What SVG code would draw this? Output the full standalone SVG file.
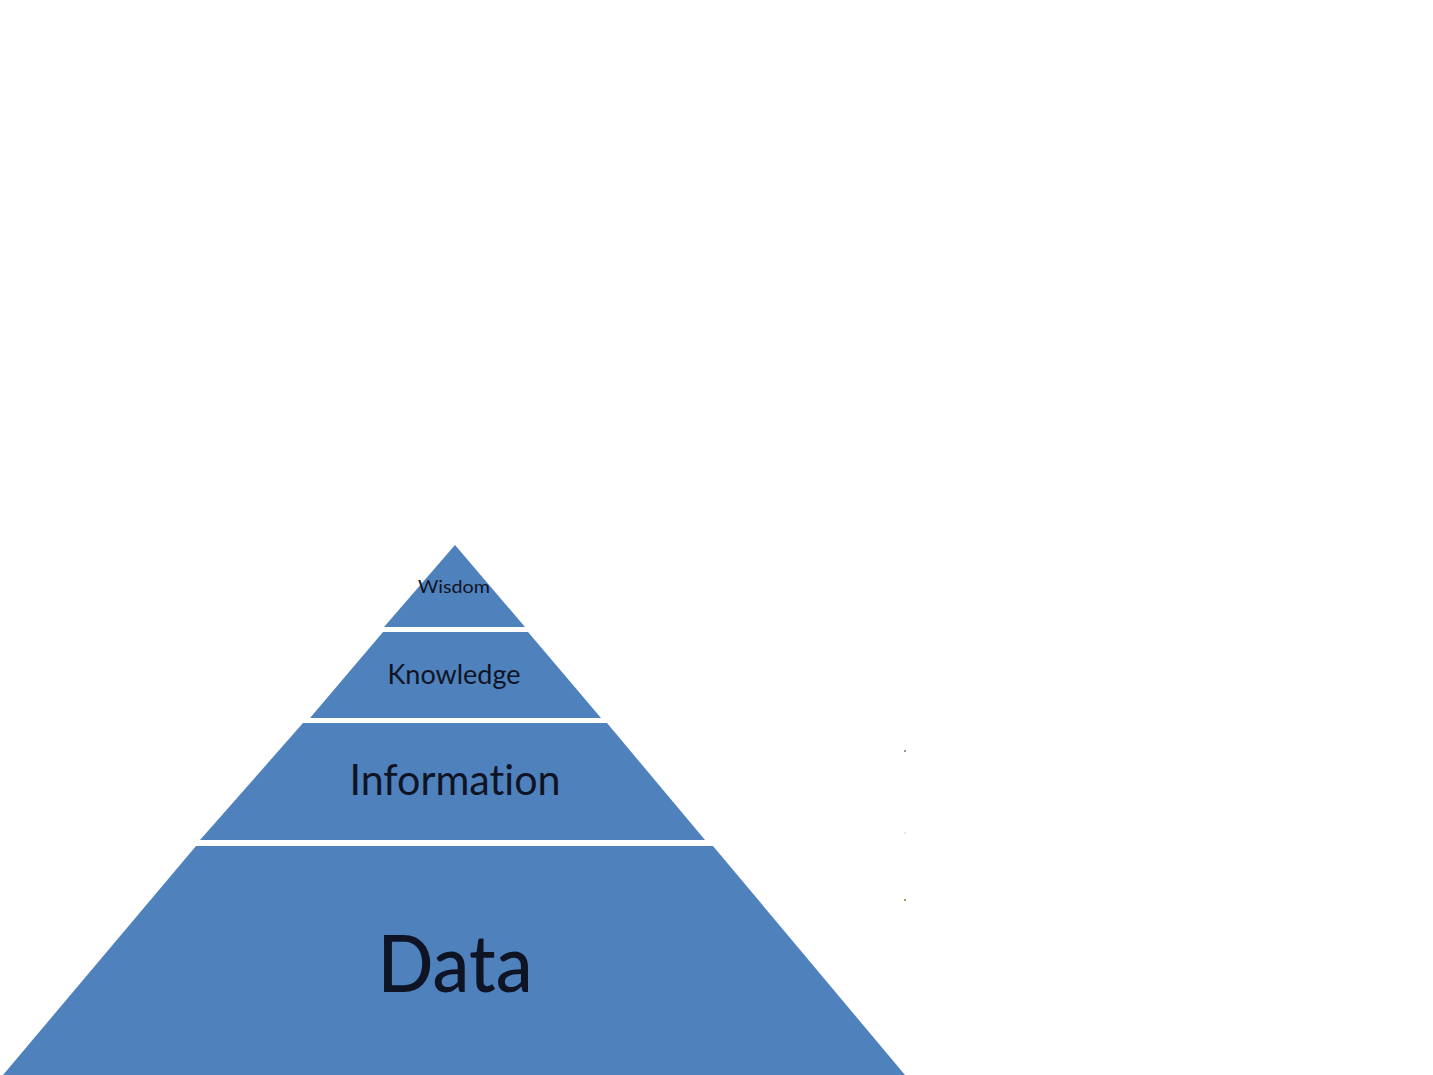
<svg xmlns="http://www.w3.org/2000/svg" width="1433" height="1075" viewBox="0 0 1433 1075">
<style>
.layer{fill:#4F81BD;}
.lbl{font-family:Lato,"Open Sans","Liberation Sans",sans-serif;fill:#0f1424;text-anchor:middle;font-variant-ligatures:none;font-feature-settings:"liga" 0;}
</style>
<rect width="1433" height="1075" fill="#FFFFFF"/>
<g id="wisdom">
<polygon class="layer" points="455,545 525,627 384,627"/>
<text class="lbl" x="454" y="593" font-size="17" textLength="72" lengthAdjust="spacingAndGlyphs">Wisdom</text>
</g>
<g id="knowledge">
<polygon class="layer" points="383,632 528,632 601,718 310,718"/>
<text class="lbl" x="454" y="684" font-size="26" textLength="133" lengthAdjust="spacingAndGlyphs">Knowledge</text>
</g>
<g id="information">
<polygon class="layer" points="303,723 607,723 705,840 200,840"/>
<text class="lbl" x="455" y="795" font-size="43" textLength="211" lengthAdjust="spacingAndGlyphs">Information</text>
</g>
<g id="data">
<polygon class="layer" points="196,846 713,846 905,1075 3,1075"/>
<text class="lbl" x="455" y="992" font-size="80" font-weight="500" textLength="155" lengthAdjust="spacingAndGlyphs">Data</text>
</g>
<g id="connectors"></g>
<g id="specks" fill="#777777">
<circle cx="905" cy="751" r="1"/>
<circle cx="905" cy="833" r="0.8" fill="#cccccc"/>
<circle cx="905" cy="900" r="1" fill="#8a7a30"/>
</g>
</svg>
